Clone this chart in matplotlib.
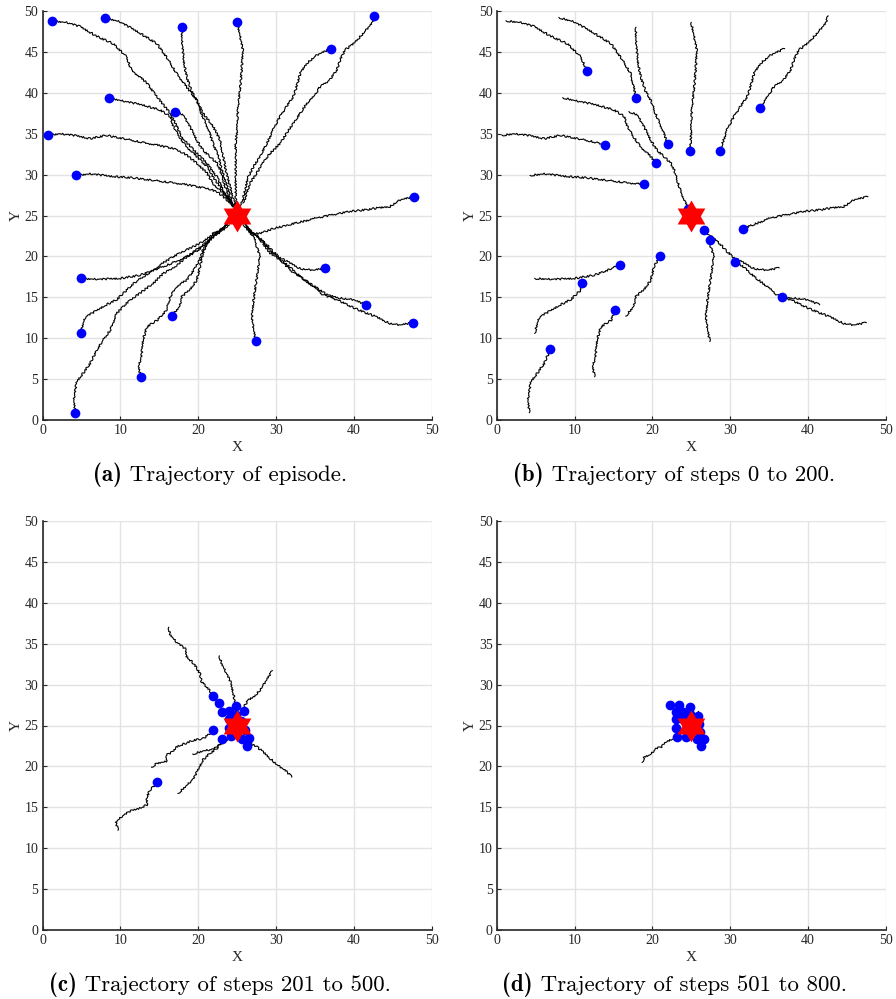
import numpy as np
import matplotlib
matplotlib.use('Agg')
import matplotlib.pyplot as plt
from matplotlib.path import Path

plt.rcParams['mathtext.fontset'] = 'cm'

# ---------------- data ----------------
target = (25.0, 25.0)

# full-episode trajectories (waypoints), first point = start position
episode_paths = [
    [(1.2, 48.8), (3.1, 48.6), (4.8, 48.1), (7.0, 46.9), (9.1, 46.0), (10.8, 44.4), (11.4, 42.8), (13.4, 41.2),
     (14.7, 39.5), (16.4, 37.5), (17.9, 34.6), (19.4, 33.0), (21.1, 31.4), (22.4, 29.7), (23.2, 28.1), (24.1, 26.9), (24.7, 25.9)],
    [(8.0, 49.2), (9.9, 48.7), (12.5, 47.3), (14.7, 46.0), (15.9, 44.4), (17.2, 42.4), (18.5, 40.7), (19.8, 39.1),
     (20.6, 37.5), (21.9, 35.9), (22.8, 34.2), (23.2, 32.2), (23.6, 30.2), (24.1, 28.5), (24.5, 26.9), (24.8, 25.9)],
    [(17.9, 48.0), (17.9, 46.5), (18.1, 44.0), (18.5, 42.0), (19.1, 40.3), (19.8, 39.1), (20.4, 37.5), (21.3, 35.5),
     (21.9, 33.8), (22.6, 32.2), (23.0, 30.6), (23.6, 28.9), (24.1, 27.3), (24.5, 26.1)],
    [(25.0, 48.6), (25.3, 47.3), (25.7, 45.2), (25.6, 43.2), (25.4, 40.7), (25.1, 38.3), (25.0, 35.9), (24.8, 33.8),
     (24.8, 31.8), (24.8, 29.3), (24.8, 27.3), (24.9, 26.0)],
    [(37.0, 45.4), (35.2, 44.6), (33.9, 43.6), (33.1, 42.4), (32.6, 40.7), (32.2, 39.5), (31.3, 38.3), (30.5, 37.1),
     (29.6, 35.5), (28.8, 33.8), (27.9, 32.2), (27.1, 31.0), (26.4, 29.7), (26.0, 28.1), (25.7, 26.9), (25.4, 26.0)],
    [(42.6, 49.4), (42.3, 48.5), (41.2, 47.3), (39.9, 46.0), (38.8, 45.2), (38.2, 44.0), (37.8, 42.8), (36.9, 41.6),
     (35.6, 40.7), (34.8, 39.5), (33.9, 38.7), (33.1, 37.5), (32.2, 36.3), (31.3, 35.0), (30.5, 33.8), (29.2, 32.6),
     (28.3, 31.4), (27.5, 30.2), (26.6, 28.9), (26.2, 27.7), (25.8, 26.5)],
    [(8.5, 39.4), (10.8, 38.9), (12.9, 38.5), (15.1, 37.9), (16.4, 37.1), (16.8, 35.9), (17.6, 34.6), (18.5, 33.4),
     (19.8, 32.2), (21.1, 31.0), (21.9, 29.7), (22.8, 28.5), (23.6, 27.3), (24.5, 26.1)],
    [(17.0, 37.7), (18.1, 37.3), (18.9, 35.9), (19.8, 34.2), (20.6, 33.0), (21.5, 32.2), (22.4, 31.4), (22.8, 30.6),
     (23.2, 29.3), (23.6, 28.1), (24.1, 26.9), (24.6, 25.8)],
    [(0.7, 34.8), (2.2, 35.0), (4.0, 34.8), (6.1, 34.4), (8.2, 34.8), (10.4, 34.4), (12.5, 34.0), (14.7, 33.6),
     (16.8, 33.2), (18.5, 32.4), (19.8, 31.4), (21.1, 30.2), (21.9, 28.9), (22.8, 28.1), (23.6, 27.3), (24.3, 26.3)],
    [(4.3, 29.9), (6.1, 30.1), (8.7, 29.8), (11.7, 29.6), (14.2, 29.3), (16.8, 29.0), (18.9, 28.7), (21.1, 28.3),
     (22.4, 27.9), (23.2, 27.3), (24.1, 26.5)],
    [(47.7, 27.3), (45.9, 26.9), (44.6, 26.1), (42.9, 25.9), (41.6, 25.7), (39.5, 25.5), (37.3, 25.1), (35.2, 24.7),
     (32.2, 24.0), (29.6, 23.4), (27.9, 22.8), (27.1, 22.8), (26.2, 23.6)],
    [(4.9, 17.3), (7.4, 17.2), (9.9, 17.3), (12.5, 17.7), (14.2, 18.3), (15.9, 18.9), (17.7, 19.6), (19.4, 20.4),
     (20.6, 21.2), (21.5, 22.0), (22.4, 22.8), (23.2, 23.4), (23.9, 24.2)],
    [(4.9, 10.6), (5.2, 11.8), (5.5, 12.6), (7.0, 13.4), (8.2, 14.1), (9.5, 14.7), (10.8, 15.9), (11.7, 16.7),
     (12.9, 17.5), (14.2, 18.3), (15.5, 19.2), (16.8, 20.0), (18.5, 20.8), (20.2, 21.6), (21.5, 22.4), (22.8, 23.2), (23.7, 24.0)],
    [(4.2, 0.9), (4.0, 2.4), (4.4, 4.7), (5.2, 5.7), (6.1, 6.9), (7.0, 8.6), (7.8, 9.8), (8.7, 11.0), (9.5, 13.0),
     (10.8, 14.3), (12.5, 15.5), (14.2, 16.7), (15.5, 17.9), (17.2, 18.9), (18.9, 20.2), (20.6, 21.4), (21.9, 22.4),
     (23.2, 23.2), (23.9, 23.9)],
    [(12.6, 5.3), (12.3, 6.5), (12.7, 7.7), (12.9, 9.8), (13.4, 11.4), (14.7, 12.2), (15.9, 13.4), (16.4, 15.1),
     (17.2, 16.3), (18.5, 17.1), (19.4, 18.3), (20.2, 19.6), (20.6, 20.8), (21.5, 22.0), (22.8, 23.2), (23.6, 23.9)],
    [(16.6, 12.7), (17.6, 13.9), (17.9, 15.1), (18.9, 15.9), (19.8, 17.1), (20.2, 18.7), (20.6, 20.4), (21.3, 22.0),
     (21.9, 22.8), (22.8, 23.2), (23.6, 23.8)],
    [(27.4, 9.6), (27.1, 11.0), (26.9, 12.6), (27.1, 14.7), (27.4, 16.7), (27.7, 18.7), (27.9, 20.0), (27.5, 21.2),
     (27.1, 22.4), (26.4, 23.2), (25.8, 23.9)],
    [(36.3, 18.6), (34.8, 18.3), (33.1, 18.5), (31.8, 19.2), (30.5, 19.8), (29.6, 20.6), (28.8, 21.4), (27.9, 22.2),
     (27.1, 22.8), (26.6, 23.2), (26.0, 23.9)],
    [(41.5, 14.1), (39.9, 14.7), (38.2, 14.9), (36.5, 15.3), (35.6, 15.9), (34.3, 16.7), (33.1, 17.5), (31.8, 18.3),
     (30.5, 19.6), (29.2, 20.8), (28.3, 21.8), (27.5, 22.6), (26.7, 23.0), (26.1, 23.7)],
    [(47.5, 11.9), (45.9, 11.6), (44.6, 11.8), (42.9, 12.6), (41.2, 13.2), (39.5, 13.9), (37.8, 14.7), (36.0, 15.3),
     (34.8, 16.3), (33.1, 17.5), (31.8, 18.7), (30.5, 19.6), (29.2, 20.4), (28.3, 21.6), (27.5, 22.4), (26.6, 23.0), (26.2, 23.8)],
]

# positions at step 200 (one per agent, same order as episode_paths)
step200_points = [
    (11.6, 42.7), (17.9, 39.4), (22.0, 33.7), (24.9, 32.9), (28.7, 32.9), (33.8, 38.1), (20.5, 31.4), (24.6, 25.8),
    (13.9, 33.6), (18.9, 28.8), (31.7, 23.4), (15.9, 19.0), (10.9, 16.7), (6.9, 8.7), (15.2, 13.4), (21.0, 20.1),
    (27.4, 22.0), (26.7, 23.2), (36.7, 15.0), (30.6, 19.3),
]

# steps 201-500
c_paths = [
    [(16.2, 37.0), (16.4, 36.1), (17.2, 35.2), (18.3, 34.4), (18.5, 33.4), (19.4, 32.6), (20.2, 31.4), (20.4, 30.4),
     (21.3, 29.5), (21.9, 28.6), (22.6, 27.8)],
    [(22.7, 33.5), (23.0, 32.6), (23.6, 31.4), (24.1, 30.4), (24.5, 28.9), (24.7, 27.9), (24.8, 27.4)],
    [(29.5, 31.7), (28.8, 30.6), (27.9, 29.3), (27.1, 28.5), (26.4, 28.1), (26.0, 27.5), (25.9, 26.8)],
    [(14.0, 19.9), (14.7, 20.4), (15.9, 20.6), (15.9, 21.4), (16.8, 21.8), (17.2, 22.4), (18.3, 22.8), (19.4, 23.2),
     (20.6, 23.4), (21.9, 24.3)],
    [(9.7, 12.2), (9.4, 13.2), (10.2, 13.9), (11.2, 14.5), (12.5, 14.9), (13.4, 15.3), (13.4, 16.3), (13.8, 17.1),
     (14.2, 17.5), (14.7, 18.1)],
    [(17.4, 16.7), (18.3, 17.5), (19.4, 18.5), (20.2, 20.0), (20.6, 20.8), (21.5, 21.6), (22.4, 22.2), (23.0, 23.2)],
    [(19.3, 21.5), (20.6, 21.9), (21.9, 22.1), (22.8, 22.6), (24.2, 23.6)],
    [(32.0, 18.7), (31.3, 19.4), (30.1, 20.2), (29.2, 21.0), (28.3, 21.8), (27.5, 22.4), (27.1, 22.6), (26.4, 23.2),
     (26.5, 23.5)],
]
c_points = [
    (21.9, 28.6), (22.6, 27.7), (23.0, 26.7), (24.0, 26.8), (24.8, 27.4), (25.9, 26.8), (24.9, 26.3), (23.9, 25.8),
    (21.9, 24.4), (23.0, 23.3), (24.2, 23.7), (25.6, 23.3), (26.5, 23.5), (26.2, 22.5), (23.9, 24.7), (26.0, 24.4),
    (14.7, 18.1), (25.0, 25.0), (24.6, 25.4), (25.5, 25.6),
]

# steps 501-800
d_paths = [
    [(18.7, 20.5), (19.0, 21.2), (19.7, 21.4), (20.5, 22.2), (21.2, 22.4), (21.8, 23.0), (22.7, 23.4), (23.2, 23.6)],
    [(26.3, 23.9), (26.7, 23.4)],
    [(25.9, 26.8), (25.9, 26.2)],
]
d_points = [
    (22.3, 27.5), (23.4, 27.5), (24.9, 27.3), (23.0, 26.7), (23.9, 26.7), (24.9, 26.4), (25.9, 26.2), (23.0, 25.8),
    (24.0, 25.8), (23.1, 24.7), (26.0, 25.2), (23.2, 23.6), (24.3, 23.6), (25.7, 23.3), (26.7, 23.4), (26.3, 22.5),
    (26.1, 24.2), (25.0, 25.0), (24.5, 24.3), (25.6, 25.6),
]

x_ticks = [0, 10, 20, 30, 40, 50]
y_ticks = [0, 5, 10, 15, 20, 25, 30, 35, 40, 45, 50]
caption_tags = ["(a)", "(b)", "(c)", "(d)"]
caption_texts = [
    "Trajectory of episode.",
    "Trajectory of steps 0 to 200.",
    "Trajectory of steps 201 to 500.",
    "Trajectory of steps 501 to 800.",
]


def cut_path(path, end):
    pts = np.asarray(path)
    k = int(np.argmin(np.hypot(pts[:, 0] - end[0], pts[:, 1] - end[1])))
    return list(path[:max(k, 1)]) + [end]


b_paths = [cut_path(p, e) for p, e in zip(episode_paths, step200_points)]
a_points = [p[0] for p in episode_paths]

panels = [
    (episode_paths, a_points),
    (b_paths, step200_points),
    (c_paths, c_points),
    (d_paths, d_points),
]

# ---------------- figure ----------------
W, H = 896, 999
fig = plt.figure(figsize=(W / 100, H / 100), dpi=100)
renderer = fig.canvas.get_renderer()

axes_px = [
    (42.5, 11, 432, 420),
    (496.7, 11, 885.7, 420),
    (42.5, 521, 432, 930),
    (496.7, 521, 885.7, 930),
]

tick_color = '#262626'
serif = ['Liberation Serif', 'DejaVu Serif']
star_marker = Path.unit_regular_star(6, 0.58)
cap_size = 16.5

for i, ((paths, pts), (l, t, r, b)) in enumerate(zip(panels, axes_px)):
    ax = fig.add_axes([l / W, 1 - b / H, (r - l) / W, (b - t) / H])
    for p in paths:
        arr = np.asarray(p)
        ln, = ax.plot(arr[:, 0], arr[:, 1], color='black', lw=0.8, zorder=2)
        ln.set_sketch_params(scale=0.9, length=2.5, randomness=3)
    parr = np.asarray(pts)
    ax.plot(parr[:, 0], parr[:, 1], 'o', color='#0000ff', ms=7, mec='none', zorder=3)
    ax.plot([target[0]], [target[1]], marker=star_marker, color='#ff0000', ms=23, mec='none',
            ls='none', zorder=4)

    ax.set_xlim(0, 50)
    ax.set_ylim(0, 50)
    ax.set_xticks(x_ticks)
    ax.set_yticks(y_ticks)
    ax.grid(True, color='#e3e3e3', lw=1.0)
    ax.set_axisbelow(True)
    for s in ['top', 'right']:
        ax.spines[s].set_visible(False)
    for s in ['left', 'bottom']:
        ax.spines[s].set_color(tick_color)
        ax.spines[s].set_linewidth(1.2)
    ax.tick_params(direction='in', length=3, width=0.8, color=tick_color, labelcolor=tick_color,
                   labelsize=10, pad=3)
    for lab in ax.get_xticklabels() + ax.get_yticklabels():
        lab.set_fontfamily(serif)
    ax.set_xlabel('X', fontsize=11, family=serif, color=tick_color, labelpad=3)
    ax.set_ylabel('Y', fontsize=11, family=serif, color=tick_color, labelpad=1)

    # caption: bold tag + regular text, centred as a whole under the subfigure
    cx = (l + r) / 2 - 17
    cy = 1 - (b + 55) / H
    t1 = fig.text(0, cy, caption_tags[i], ha='left', va='center', fontsize=cap_size, family='cmb10')
    t2 = fig.text(0, cy, ' ' + caption_texts[i], ha='left', va='center', fontsize=cap_size, family='cmr10')
    w1 = t1.get_window_extent(renderer).width
    w2 = t2.get_window_extent(renderer).width
    x0 = cx - (w1 + w2) / 2
    t1.set_x(x0 / W)
    t2.set_x((x0 + w1) / W)

fig.savefig('out.png', dpi=100)
